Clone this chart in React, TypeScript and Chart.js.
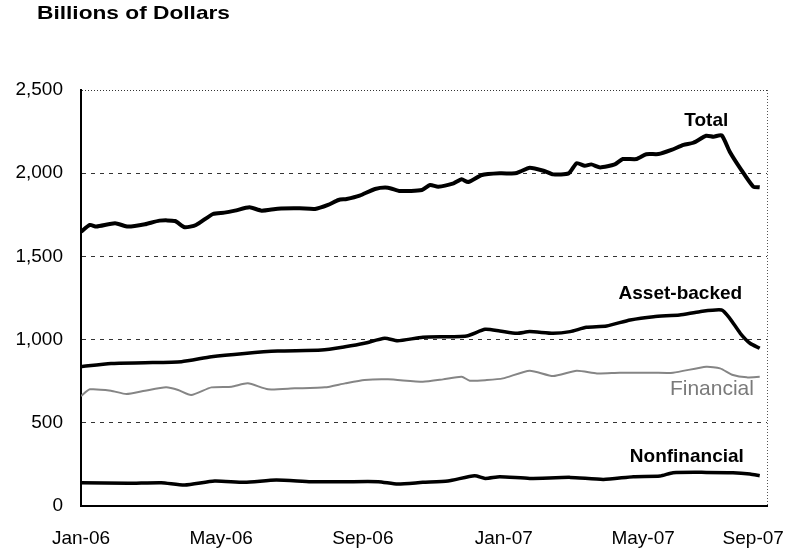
import { useEffect, useRef } from "react";
import { Chart, registerables } from "chart.js";

Chart.register(...registerables);

const titleText = "Billions of Dollars";

const totalWeeks = [0, 1.1, 1.9, 4.2, 5.8, 7.9, 9.7, 11.6, 12.8, 14.2, 16.3, 17.7, 19.0, 20.8, 22.3, 24.3, 27.0, 28.9, 30.5, 31.8, 32.8, 34.4, 36.3, 37.9, 39.4, 42.1, 43.1, 44.1, 46.0, 47.0, 47.8, 49.5, 51.7, 53.6, 54.2, 55.4, 57.1, 58.3, 60.2, 61.2, 62.2, 63.0, 64.1, 65.9, 66.9, 68.6, 69.8, 71.3, 72.9, 74.4, 75.6, 77.2, 78.1, 79.1, 80.1, 81.4, 83.0, 83.8];
const totalValues = [1648, 1689, 1679, 1699, 1679, 1693, 1715, 1713, 1675, 1689, 1755, 1763, 1775, 1795, 1775, 1787, 1789, 1785, 1809, 1839, 1845, 1865, 1905, 1913, 1893, 1899, 1929, 1919, 1939, 1963, 1947, 1989, 1999, 1999, 2009, 2033, 2015, 1993, 1999, 2060, 2045, 2053, 2035, 2053, 2085, 2085, 2114, 2115, 2140, 2170, 2183, 2225, 2219, 2228, 2129, 2029, 1919, 1915];

const assetWeeks = [0, 3.7, 7.9, 12.4, 16.1, 20.2, 24.3, 29.7, 32.6, 35.0, 37.5, 39.1, 42.2, 47.6, 49.9, 51.7, 53.8, 55.4, 58.3, 60.4, 62.4, 64.9, 67.8, 70.7, 73.9, 76.4, 79.1, 80.1, 81.4, 82.6, 83.8];
const assetValues = [837, 857, 861, 867, 897, 917, 931, 937, 957, 978, 1008, 993, 1014, 1022, 1062, 1052, 1038, 1048, 1038, 1048, 1074, 1082, 1118, 1138, 1148, 1168, 1178, 1128, 1038, 978, 948];

const financialWeeks = [0, 1.1, 3.7, 5.6, 7.9, 10.5, 12.0, 13.6, 16.1, 18.6, 20.6, 23.1, 26.4, 30.1, 32.6, 35.0, 37.9, 42.2, 44.7, 47.0, 48.0, 50.1, 52.1, 55.4, 58.3, 61.2, 63.7, 66.5, 70.7, 73.1, 77.2, 78.9, 80.5, 82.2, 83.8];
const financialValues = [661, 701, 693, 673, 693, 713, 697, 667, 713, 717, 737, 701, 707, 713, 737, 757, 761, 747, 761, 777, 753, 757, 767, 813, 781, 813, 797, 801, 801, 801, 837, 827, 787, 773, 777];

const nonfinWeeks = [0, 5.8, 9.9, 12.8, 16.5, 20.2, 24.1, 28.4, 32.6, 36.7, 39.1, 42.2, 45.3, 48.6, 49.9, 51.7, 55.4, 60.4, 64.5, 68.2, 71.5, 73.1, 77.2, 80.5, 82.6, 83.8];
const nonfinValues = [140, 136, 140, 126, 150, 142, 156, 146, 146, 146, 132, 142, 150, 182, 166, 176, 166, 172, 160, 176, 180, 200, 202, 200, 192, 182];

const xTickWeeks = [0, 17.3, 34.8, 52.2, 69.4, 83];
const xTickLabels = ["Jan-06", "May-06", "Sep-06", "Jan-07", "May-07", "Sep-07"];
const yTickValues = [0, 500, 1000, 1500, 2000, 2500];

const seriesNames = ["Total", "Asset-backed", "Financial", "Nonfinancial"];
const labelWeeks = [77.2, 74.0, 77.9, 74.8];
const labelValues = [2314, 1274, 700, 294];

const FONT = '"Liberation Sans", Arial, Helvetica, sans-serif';

const toPts = (xs: number[], ys: number[]) => xs.map((x, i) => ({ x, y: ys[i] }));

const overlayPlugin = {
  id: "overlay",
  afterDatasetsDraw(chart: any) {
    const { ctx, chartArea, scales } = chart;
    const x = scales.x;
    const y = scales.y;
    ctx.save();
    // right dotted frame
    ctx.strokeStyle = "#555";
    ctx.lineWidth = 1;
    ctx.setLineDash([1, 2]);
    ctx.beginPath();
    ctx.moveTo(chartArea.right + 0.5, chartArea.top);
    ctx.lineTo(chartArea.right + 0.5, chartArea.bottom);
    ctx.stroke();
    ctx.setLineDash([]);

    ctx.textAlign = "center";
    ctx.textBaseline = "middle";
    seriesNames.forEach((name, i) => {
      const isFin = i === 2;
      ctx.font = isFin ? `21px ${FONT}` : `bold 19px ${FONT}`;
      ctx.fillStyle = isFin ? "#7a7a7a" : "#000";
      ctx.fillText(name, x.getPixelForValue(labelWeeks[i]), y.getPixelForValue(labelValues[i]));
    });

    ctx.font = `bold 19px ${FONT}`;
    ctx.fillStyle = "#000";
    ctx.textAlign = "left";
    const w = ctx.measureText(titleText).width;
    ctx.translate(37, 14);
    ctx.scale(193 / w, 1);
    ctx.fillText(titleText, 0, 0);
    ctx.restore();
  },
};

export default function App() {
  const canvasRef = useRef<HTMLCanvasElement | null>(null);

  useEffect(() => {
    document.body.style.margin = "0";
    const canvas = canvasRef.current;
    if (!canvas) return;
    const chart = new Chart(canvas, {
      type: "line",
      data: {
        datasets: [
          { label: seriesNames[0], data: toPts(totalWeeks, totalValues), borderColor: "#000", borderWidth: 4, pointRadius: 0, tension: 0.2 },
          { label: seriesNames[1], data: toPts(assetWeeks, assetValues), borderColor: "#000", borderWidth: 3.5, pointRadius: 0, tension: 0.2 },
          { label: seriesNames[2], data: toPts(financialWeeks, financialValues), borderColor: "#858585", borderWidth: 2, pointRadius: 0, tension: 0.2 },
          { label: seriesNames[3], data: toPts(nonfinWeeks, nonfinValues), borderColor: "#000", borderWidth: 3.5, pointRadius: 0, tension: 0.2 },
        ],
      },
      options: {
        responsive: false,
        devicePixelRatio: 1,
        animation: false,
        layout: { padding: { left: 0, top: 90, right: 21, bottom: 0 } },
        plugins: { legend: { display: false }, tooltip: { enabled: false }, title: { display: false } },
        scales: {
          x: {
            type: "linear",
            min: 0,
            max: 84.7,
            afterBuildTicks: (s: any) => {
              s.ticks = xTickWeeks.map((v) => ({ value: v }));
            },
            afterFit: (s: any) => {
              s.height = 46;
              s.paddingLeft = 0;
              s.paddingRight = 0;
            },
            ticks: {
              autoSkip: false,
              maxRotation: 0,
              padding: 13,
              color: "#000",
              font: { family: FONT, size: 19 },
              callback: (_v: any, i: number) => xTickLabels[i],
            },
            grid: { display: false },
            border: { display: true, color: "#000", width: 2 },
          },
          y: {
            type: "linear",
            min: 0,
            max: 2500,
            afterBuildTicks: (s: any) => {
              s.ticks = yTickValues.map((v) => ({ value: v }));
            },
            afterFit: (s: any) => {
              s.width = 81;
            },
            ticks: {
              padding: 18,
              color: "#000",
              font: { family: FONT, size: 19 },
              callback: (v: any) => Number(v).toLocaleString("en-US"),
            },
            grid: {
              drawTicks: false,
              lineWidth: 1,
              color: (c: any) => (c.tick && c.tick.value === 0 ? "rgba(0,0,0,0)" : "#333"),
            },
            border: {
              display: true,
              color: "#000",
              width: 2,
              dash: (c: any) => (c.tick && c.tick.value === 2500 ? [1, 2] : [4, 5]),
            },
          },
        },
      },
      plugins: [overlayPlugin],
    } as any);
    return () => chart.destroy();
  }, []);

  return <canvas ref={canvasRef} width={788} height={552} style={{ display: "block" }} />;
}
